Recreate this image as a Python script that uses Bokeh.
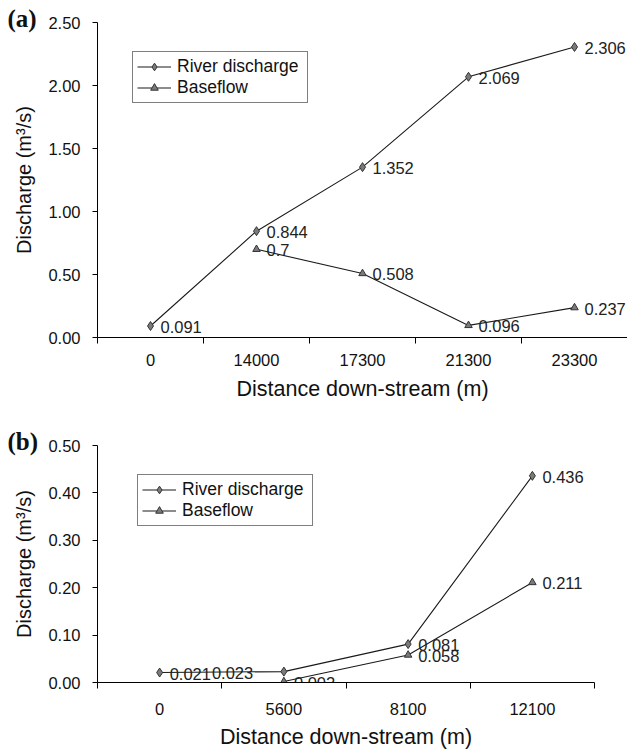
from bokeh.plotting import figure
from bokeh.models import FixedTicker, Legend, LegendItem, ColumnDataSource, Range1d, NumeralTickFormatter
from bokeh.layouts import column, row
from bokeh.embed import file_html
from bokeh.resources import INLINE
from bokeh.core.properties import value

# ---------------- data: panel (a) ----------------
a_distances = ["0", "14000", "17300", "21300", "23300"]
a_river = [0.091, 0.844, 1.352, 2.069, 2.306]
a_base_distances = ["14000", "17300", "21300", "23300"]
a_base = [0.7, 0.508, 0.096, 0.237]
a_yticks = [0.0, 0.5, 1.0, 1.5, 2.0, 2.5]

# ---------------- data: panel (b) ----------------
b_distances = ["0", "5600", "8100", "12100"]
b_river = [0.021, 0.023, 0.081, 0.436]
b_base_distances = ["5600", "8100", "12100"]
b_base = [0.002, 0.058, 0.211]
b_yticks = [0.0, 0.1, 0.2, 0.3, 0.4, 0.5]

# label offsets (style)
a_river_off = [10, 10, 10, 10, 10]
a_base_off = [10, 10, 10, 10]
b_river_off = [10, -72, 10, 10]
b_base_off = [10, 10, 10]

FONT = "Liberation Sans"
LINE = "#1a1a1a"
FILL = "#7a7a7a"


def panel(tag, cats, river, base_cats, base, yticks, river_off, base_off,
          width, height, b_left, b_right, b_top, b_bottom, legend_xy,
          lab_standoff, title_standoff):
    n = len(cats)
    p = figure(width=width, height=height,
               x_range=Range1d(0, n), y_range=Range1d(yticks[0], yticks[-1]),
               output_backend="svg", toolbar_location=None,
               min_border_left=b_left, min_border_right=b_right,
               min_border_top=b_top, min_border_bottom=b_bottom)
    pos = {c: i + 0.5 for i, c in enumerate(cats)}
    rs = ColumnDataSource(dict(x=[pos[c] for c in cats], y=river,
                               t=[str(v) for v in river], off=river_off))
    bs = ColumnDataSource(dict(x=[pos[c] for c in base_cats], y=base,
                               t=[str(v) for v in base], off=base_off))

    rl = p.line("x", "y", source=rs, line_color=LINE, line_width=1.1)
    rm = p.scatter("x", "y", source=rs, marker="diamond", size=9,
                   fill_color=FILL, line_color="#333333", line_width=1)
    bl = p.line("x", "y", source=bs, line_color=LINE, line_width=1.1)
    bm = p.scatter("x", "y", source=bs, marker="triangle", size=7.5,
                   fill_color=FILL, line_color="#333333", line_width=1)

    for src in (rs, bs):
        p.text("x", "y", text="t", source=src, x_offset="off", y_offset=1,
               text_font=value(FONT), text_font_size=value("16.5px"),
               text_color="#222222",
               text_align="left", text_baseline="middle")

    legend = Legend(items=[LegendItem(label="River discharge", renderers=[rl, rm]),
                           LegendItem(label="Baseflow", renderers=[bl, bm])],
                    location=legend_xy, orientation="vertical",
                    border_line_color="black", border_line_width=1,
                    background_fill_color="white", background_fill_alpha=1,
                    padding=4, spacing=0, margin=0, glyph_width=34, glyph_height=19,
                    label_standoff=6, label_width=126, label_text_font=FONT,
                    label_text_font_size="17.5px", label_text_color="#111111",
                    label_height=19)
    p.add_layout(legend, "center")

    # x axis: labels at category centres, ticks at category boundaries
    p.xaxis.ticker = FixedTicker(ticks=[pos[c] for c in cats],
                                 minor_ticks=[float(i) for i in range(n + 1)])
    p.xaxis.major_label_overrides = {pos[c]: c for c in cats}
    p.xaxis.major_tick_out = 0
    p.xaxis.major_tick_in = 0
    p.xaxis.minor_tick_out = 6
    p.xaxis.minor_tick_in = 0
    p.xaxis.minor_tick_line_color = "black"
    p.xaxis.major_label_standoff = lab_standoff
    p.xaxis.axis_label = "Distance down-stream (m)"
    p.xaxis.axis_label_standoff = title_standoff
    p.xaxis.axis_label_text_font_size = "21.5px"

    p.yaxis.ticker = FixedTicker(ticks=yticks)
    p.yaxis.formatter = NumeralTickFormatter(format="0.00")
    p.yaxis.major_tick_out = 5
    p.yaxis.major_tick_in = 0
    p.yaxis.minor_tick_line_color = None
    p.yaxis.major_label_standoff = 12
    p.yaxis.axis_label = "Discharge (m³/s)"
    p.yaxis.axis_label_standoff = 10
    p.yaxis.axis_label_text_font_size = "20px"

    for ax in (p.xaxis, p.yaxis):
        ax.axis_line_color = "black"
        ax.major_tick_line_color = "black"
        ax.major_label_text_font = FONT
        ax.major_label_text_font_size = "16.5px"
        ax.major_label_text_color = "#111111"
        ax.axis_label_text_font = FONT
        ax.axis_label_text_font_style = "normal"
        ax.axis_label_text_color = "#111111"

    p.grid.visible = False
    p.outline_line_color = None
    p.background_fill_color = "white"
    p.border_fill_color = "white"

    # panel tag "(a)" / "(b)" drawn as the figure title, pulled down next to the top tick
    p.title.text = tag
    p.title.align = "left"
    p.title.offset = 7 - b_left
    p.title.standoff = -20
    p.title.vertical_align = "middle"
    p.title.text_font = "Liberation Serif"
    p.title.text_font_style = "bold"
    p.title.text_font_size = "25px"
    p.title.text_color = "#111111"
    return p


pa = panel("(a)", a_distances, a_river, a_base_distances, a_base, a_yticks,
           a_river_off, a_base_off,
           width=627, height=408, b_left=97, b_right=0, b_top=22, b_bottom=71,
           legend_xy=(35, 234), lab_standoff=10, title_standoff=8)

pb = panel("(b)", b_distances, b_river, b_base_distances, b_base, b_yticks,
           b_river_off, b_base_off,
           width=627, height=343, b_left=97, b_right=33, b_top=37, b_bottom=69,
           legend_xy=(40, 156), lab_standoff=14, title_standoff=7)

# wrap each figure separately so their frames are not aligned to each other
layout = column(row(pa), row(pb), spacing=0)
open("out.html", "w").write(file_html(layout, INLINE))
